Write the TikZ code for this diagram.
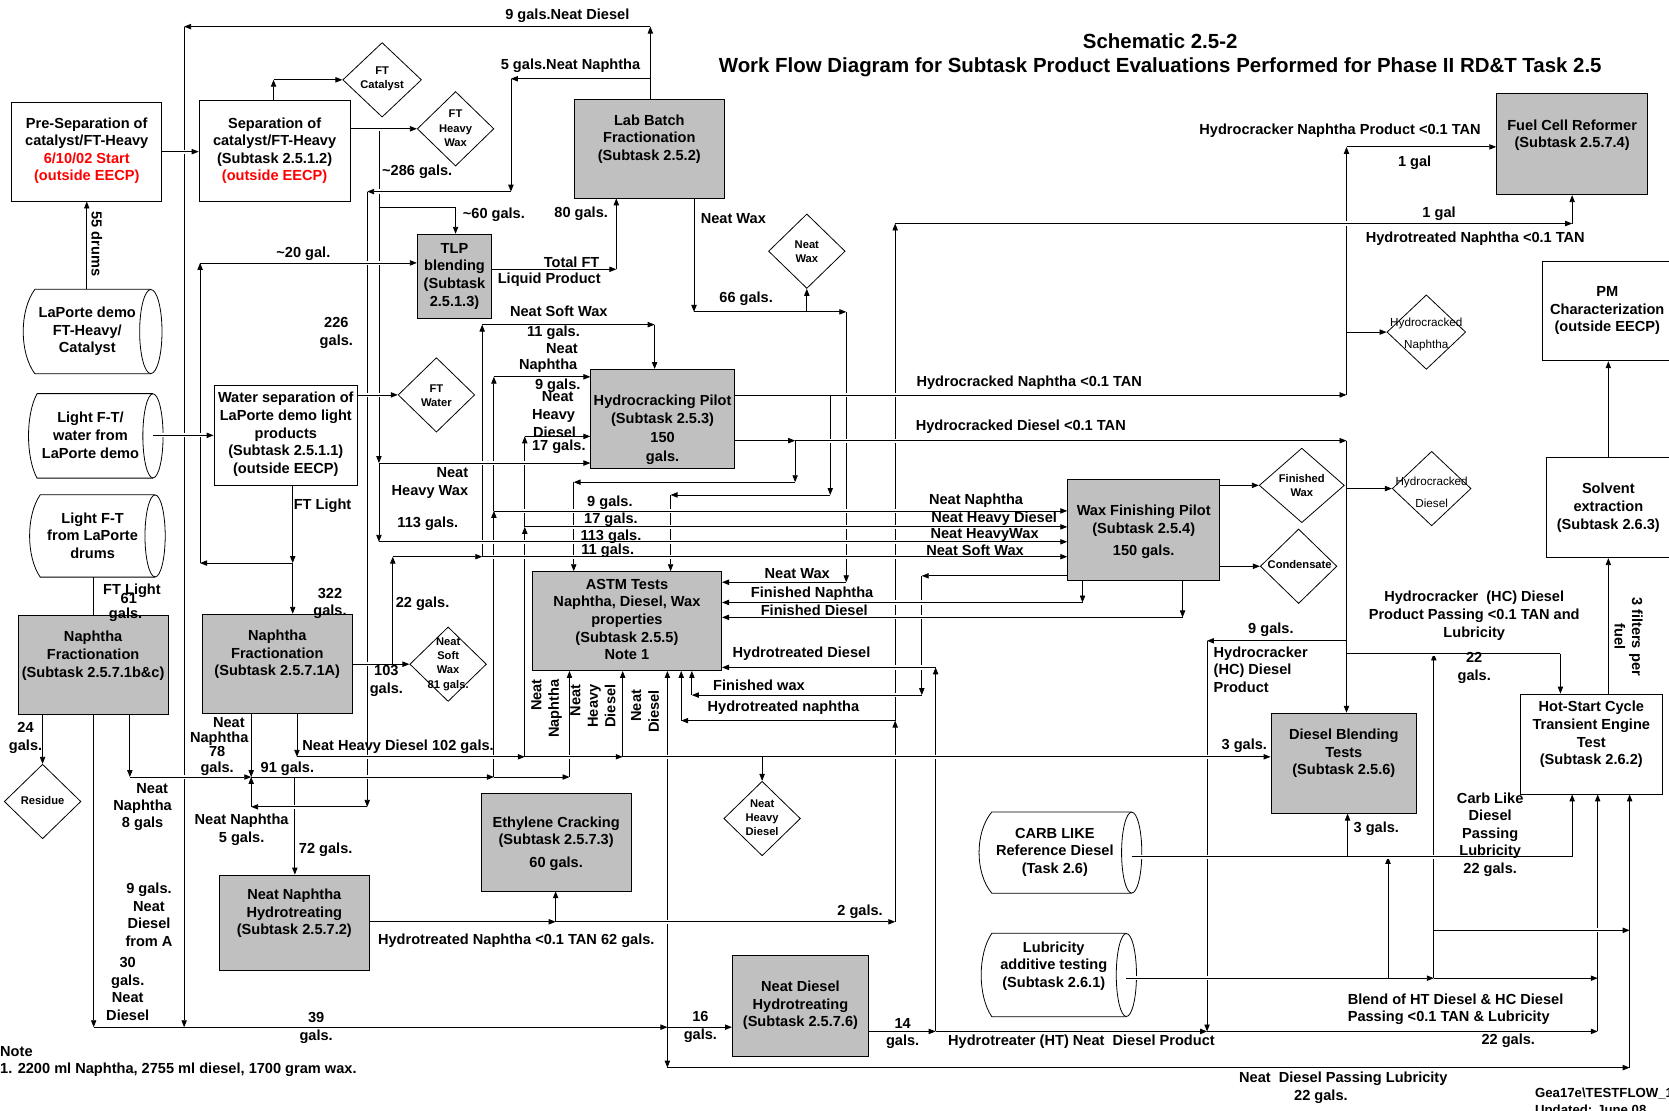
\documentclass[tikz,border=0pt]{standalone}
\usepackage{fontspec}
\setmainfont{Liberation Sans}
\usetikzlibrary{arrows.meta,shapes.geometric,calc}
\definecolor{boxgray}{RGB}{192,192,192}
\newcommand{\lblfont}{\fontsize{13.7}{16.5}\selectfont\bfseries}
\newcommand{\ttlfont}{\fontsize{19.2}{23}\selectfont\bfseries}
\newcommand{\dmfont}{\fontsize{10.5}{13.3}\selectfont\bfseries}
\newcommand{\dmrfont}{\fontsize{11}{21}\selectfont}
\newcommand{\smfont}{\fontsize{12.4}{15}\selectfont\bfseries}
% horizontal drum (direct access storage) around a sized node
\newcommand{\drumshape}[4]{%
  \fill[white] (#1.north west) -- (#1.north east) -- (#1.south east) -- (#1.south west)
    .. controls ($(#1.south west)+({-1.333*#2},{-0.5*#4})$) and ($(#1.north west)+({-1.333*#2},{0.5*#4})$) .. cycle;
  \draw[boxline] (#1.south east) -- (#1.south west)
    .. controls ($(#1.south west)+({-1.333*#2},{-0.5*#4})$) and ($(#1.north west)+({-1.333*#2},{0.5*#4})$) .. (#1.north west) -- (#1.north east);
  \draw[boxline, fill=white] (#1.east) ellipse [x radius=#3, y radius=#4];
}
\begin{document}
\begin{tikzpicture}[x=1pt,y=-1pt,
  boxline/.style={draw=black, line width=0.75pt},
  wbox/.style={boxline, fill=white, inner sep=0pt},
  gbox/.style={boxline, fill=boxgray, inner sep=0pt},
  drum/.style={inner sep=0pt},
  dmd/.style={diamond, boxline, fill=white, inner sep=0pt, minimum width=72pt, minimum height=70pt},
  t/.style={inner sep=0pt, align=center, font=\lblfont},
  dt/.style={inner sep=0pt, align=center, font=\dmfont},
  ln/.style={draw=black, line width=0.75pt},
  ar/.style={ln, -{Triangle[length=6.5pt,width=5pt]}},
  hop/.style={preaction={draw=white, line width=4pt, arrows=-, shorten <=3pt, shorten >=3pt}},
]
\useasboundingbox (0,0) rectangle (1568,1043);
\fill[white] (0,0) rectangle (1568,1043);
\clip (0,0) rectangle (1568,1043);

% ---------------- title
\node[inner sep=0pt, align=center, font=\ttlfont] (title) at (1090,52)
  {Schematic 2.5-2\\Work Flow Diagram for Subtask Product Evaluations Performed for Phase II RD\&T Task 2.5};

% ---------------- process boxes
\node[wbox, minimum width=141pt, minimum height=93pt] (presep) at (81.5,142.5) {};
\node[wbox, minimum width=142pt, minimum height=95pt] (sep) at (258,141.5) {};
\node[wbox, minimum width=135pt, minimum height=94pt] (water) at (268.5,409) {};
\node[wbox, minimum width=141pt, minimum height=93pt] (pm) at (1519.5,292.5) {};
\node[wbox, minimum width=141pt, minimum height=94pt] (solvent) at (1523.5,477) {};
\node[wbox, minimum width=134pt, minimum height=94pt] (hot) at (1495,699) {};
\node[gbox, minimum width=141pt, minimum height=93pt] (lab) at (610.5,139.5) {};
\node[gbox, minimum width=70pt, minimum height=79pt] (tlp) at (427,259.5) {};
\node[gbox, minimum width=142pt, minimum height=95pt] (fuel) at (1477,135.5) {};
\node[gbox, minimum width=135pt, minimum height=93pt] (hc) at (622.5,393.5) {};
\node[gbox, minimum width=143pt, minimum height=95pt] (wax) at (1074.5,497.5) {};
\node[gbox, minimum width=178pt, minimum height=93pt] (astm) at (589,583.5) {};
\node[gbox, minimum width=141pt, minimum height=93pt] (nfb) at (87.5,624.5) {};
\node[gbox, minimum width=141pt, minimum height=93pt] (nfa) at (260.5,623.5) {};
\node[gbox, minimum width=141pt, minimum height=92pt] (eth) at (522.5,791) {};
\node[gbox, minimum width=141pt, minimum height=90pt] (nnh) at (276.5,867) {};
\node[gbox, minimum width=137pt, minimum height=94pt] (dbt) at (1262.5,717) {};
\node[gbox, minimum width=128pt, minimum height=94pt] (ndh) at (752,945) {};

% ---------------- storage drums
\node[drum, minimum width=108.5pt, minimum height=79pt] (lfh) at (87.25,311.5) {};
\node[drum, minimum width=108.5pt, minimum height=79pt] (lfw) at (89.25,409.5) {};
\node[drum, minimum width=107.5pt, minimum height=77pt] (lfd) at (91.75,503.5) {};
\node[drum, minimum width=131pt, minimum height=76pt] (carb) at (997.5,801) {};
\node[drum, minimum width=126pt, minimum height=78pt] (lub) at (995,916) {};
\drumshape{lfh}{11}{10.5}{39.5}
\drumshape{lfw}{8}{9.5}{39.5}
\drumshape{lfd}{10}{9.5}{38.5}
\drumshape{carb}{12}{9.5}{38}
\drumshape{lub}{10}{9.5}{39}

% ---------------- product diamonds
\node[dmd, minimum width=74pt] (ftcat) at (359,75) {};
\node[dmd] (ftwax) at (428,121) {};
\node[dmd] (ndwax) at (758,236) {};
\node[dmd] (ftwat) at (410,371) {};
\node[dmd] (nsw) at (421,624) {};
\node[dmd] (resid) at (40,753) {};
\node[dmd] (nhd) at (716,769) {};
\node[dmd, minimum width=80pt] (fwax) at (1223,456) {};
\node[dmd] (cond) at (1220,532) {};
\node[dmd, minimum width=74pt] (hcn) at (1340,312) {};
\node[dmd, minimum width=74pt] (hcd) at (1345,459) {};

% ---------------- junction points
\coordinate (cat1) at (257,75);
\coordinate (j286) at (356,121);
\coordinate (j60) at (356,195);
\coordinate (j60b) at (428,195);
\coordinate (jhw) at (356,435);
\coordinate (j113) at (356,509);
\coordinate (nd1) at (611,25);
\coordinate (nd2) at (173,25);
\coordinate (nd3) at (173,965);
\coordinate (nd4) at (88,965);
\coordinate (jnd) at (627,965);
\coordinate (nd5) at (627,1003);
\coordinate (nd6) at (1531,1003);
\coordinate (nn1) at (611,74);
\coordinate (nn2) at (480,74);
\coordinate (nn3) at (480,180);
\coordinate (nn4) at (345,180);
\coordinate (nn5) at (345,758);
\coordinate (nn6) at (236,758);
\coordinate (jn91) at (236,730);
\coordinate (n8) at (122,730);
\coordinate (j72) at (277,730);
\coordinate (jnn) at (464,730);
\coordinate (jnn2) at (535,730);
\coordinate (jn9) at (464,480);
\coordinate (jn9b) at (464,354);
\coordinate (jft) at (275,529);
\coordinate (j20a) at (188,529);
\coordinate (j20b) at (188,247);
\coordinate (jhd) at (279,711);
\coordinate (jhd2) at (493,711);
\coordinate (jhd3) at (585,711);
\coordinate (jnhd) at (716,711);
\coordinate (jh17) at (493,495);
\coordinate (jh17b) at (493,410);
\coordinate (jsw) at (369,624);
\coordinate (jsw2) at (369,523);
\coordinate (jsw3) at (453,523);
\coordinate (jsw4) at (453,305);
\coordinate (jsw5) at (615,305);
\coordinate (jtl) at (579,253);
\coordinate (nw1) at (652,293);
\coordinate (nw4) at (758,293);
\coordinate (nw2) at (795,293);
\coordinate (nw3) at (795,547);
\coordinate (hn1) at (1265,371);
\coordinate (hn2) at (1265,138);
\coordinate (hn3) at (780,371);
\coordinate (hn4) at (780,465);
\coordinate (hn5) at (630,465);
\coordinate (hn6) at (1265,312);
\coordinate (hd1) at (747,414);
\coordinate (hd2) at (1265,414);
\coordinate (hd3) at (747,453);
\coordinate (hd4) at (539,453);
\coordinate (hd5) at (1265,459);
\coordinate (hd6) at (1265,602);
\coordinate (hd7) at (1134,602);
\coordinate (hd8) at (1134,969);
\coordinate (hd9) at (1265,614);
\coordinate (hd10) at (1466,614);
\coordinate (ht1) at (841,866);
\coordinate (ht2) at (841,210);
\coordinate (ht3) at (1477,210);
\coordinate (ht4) at (522,866);
\coordinate (ht5) at (841,677);
\coordinate (ht6) at (640,677);
\coordinate (fw1) at (866,541);
\coordinate (fw2) at (866,653);
\coordinate (fw3) at (650,653);
\coordinate (fn1) at (1017,566);
\coordinate (fd1) at (1111,580);
\coordinate (hx1) at (879,969);
\coordinate (hx2) at (879,627);
\coordinate (hx3) at (1501,969);
\coordinate (cb1) at (1477,805);
\coordinate (cb2) at (1266,805);
\coordinate (lb1) at (1347,919);
\coordinate (lb2) at (1501,919);
\coordinate (lb3) at (1304,919);
\coordinate (lb4) at (1304,805);
\coordinate (lb5) at (1347,614);
\coordinate (lb6) at (1347,874);
\coordinate (lb7) at (1531,874);
\coordinate (sx) at (1511,0);

% ---------------- vertical runs
\draw[ar] (presep.south |- lfh.north) -- (presep.south);
\draw[ar] (sep.north -| cat1) -- (cat1);
\draw[ar] (j286) -- (jhw);
\draw[ar] (jhw) -- (j113);
\draw[ar] (j60b) -- (j60b |- tlp.north);
\draw[ar] (lab.north -| nd1) -- (nd1);
\draw[ar] (nd2) -- (nd3);
\draw[ar] (nn2) -- (nn3);
\draw[ar] (nn4) -- (nn5);
\draw[ar] (nn6) -- (jn91);
\draw[ar] (water.south -| jft) -- (jft);
\draw[ar] (jft) -- (jft |- nfa.north);
\draw[ar] (j20a) -- (j20b);
\draw[ln] (nfb.north |- lfd.south) -- (nfb.north);
\draw[ar] (nfb.south -| resid.north) -- (resid.north);
\draw[ar] (nfb.south -| nd4) -- (nd4);
\draw[ar] (nfb.south -| n8) -- (n8);
\draw[ar] (nfa.south -| jn91) -- (jn91);
\draw[ar] (jnn2) -- (jnn2 |- astm.south);
\draw[ar] (j72) -- (j72 |- nnh.north);
\draw[ar] (jnn) -- (jn9);
\draw[ar] (jn9) -- (jn9b);
\draw[ar] (nfa.south -| jhd) -- (jhd);
\draw[ar] (jhd3) -- (jhd3 |- astm.south);
\draw[ar] (jhd2) -- (jh17);
\draw[ar] (jh17) -- (jh17b);
\draw[ar] (jnhd) -- (nhd.north);
\draw[ar] (jsw) -- (jsw2);
\draw[ar] (jsw3) -- (jsw4);
\draw[ar] (jsw5) -- (jsw5 |- hc.north);
\draw[ar] (jtl) -- (jtl |- lab.south);
\draw[ar] (lab.south -| nw1) -- (nw1);
\draw[ar] (nw4) -- (ndwax.south);
\draw[ar] (nw2) -- (nw3);
\draw[ar] (hn1) -- (hn2);
\draw[ar] (hn3) -- (hn4);
\draw[ar] (hn5) -- (hn5 |- astm.north);
\draw[ar] (hd2) -- (hd2 |- dbt.north);
\draw[ar] (hd1) -- (hd3);
\draw[ar] (hd4) -- (hd4 |- astm.north);
\draw[ar] (hd7) -- (hd8);
\draw[ar] (hd10) -- (hd10 |- hot.north);
\draw[ar] (ht4) -- (ht4 |- eth.south);
\draw[ar] (ht1) -- (ht5);
\draw[ar] (ht5) -- (ht2);
\draw[ar] (ht3) -- (ht3 |- fuel.south);
\draw[ar] (ht6) -- (ht6 |- astm.south);
\draw[ar] (fw1) -- (fw2);
\draw[ar] (fw3) -- (fw3 |- astm.south);
\draw[ar] (wax.south -| fn1) -- (fn1);
\draw[ar] (wax.south -| fd1) -- (fd1);
\draw[ar] (hx3) -- (hx3 |- hot.south);
\draw[ar] (hx1) -- (hx2);
\draw[ar] (jnd) -- (jnd |- astm.south);
\draw[ar] (jnd) -- (nd5);
\draw[ar] (nd6) -- (nd6 |- hot.south);
\draw[ar] (cb1) -- (cb1 |- hot.south);
\draw[ar] (cb2) -- (cb2 |- dbt.south);
\draw[ar] (lb3) -- (lb4);
\draw[ar] (lb1) -- (lb5);
\draw[ar] (sx |- hot.north) -- (sx |- solvent.south);
\draw[ar] (sx |- solvent.north) -- (sx |- pm.south);

% ---------------- horizontal runs (drawn over the verticals)
\draw[ar,hop] (presep.east) -- (presep.east -| sep.west);
\draw[ar,hop] (cat1) -- (ftcat.west);
\draw[ar,hop] (sep.east |- j286) -- (ftwax.west);
\draw[ln,hop] (j60) -- (j60b);
\draw[ar,hop] (jhw) -- (jhw -| hc.west);
\draw[ar,hop] (j113) -- (j113 -| wax.west);
\draw[ar,hop] (nd1) -- (nd2);
\draw[ar,hop] (nn1) -- (nn2);
\draw[ar,hop] (nn3) -- (nn4);
\draw[ar,hop] (nn5) -- (nn6);
\draw[ar,hop] (lfw.east |- water.west) -- (water.west);
\draw[ar,hop] (water.east |- ftwat.west) -- (ftwat.west);
\draw[ar,hop] (jft) -- (j20a);
\draw[ar,hop] (j20b) -- (j20b -| tlp.west);
\draw[ln,hop] (nd4) -- (nd3);
\draw[ar,hop] (nd3) -- (jnd);
\draw[ar,hop] (n8) -- (jn91);
\draw[ln,hop] (jn91) -- (j72);
\draw[ar,hop] (j72) -- (jnn);
\draw[ar,hop] (jnn) -- (jnn2);
\draw[ar,hop] (jn9b) -- (jn9b -| hc.west);
\draw[ar,hop] (jn9) -- (jn9 -| wax.west);
\draw[ar,hop] (jhd) -- (jhd2);
\draw[ar,hop] (jhd2) -- (jhd3);
\draw[ln,hop] (jhd3) -- (jnhd);
\draw[ar,hop] (jnhd) -- (jnhd -| dbt.west);
\draw[ar,hop] (jh17b) -- (jh17b -| hc.west);
\draw[ar,hop] (jh17) -- (jh17 -| wax.west);
\draw[ln,hop] (nfa.east |- nsw.west) -- (jsw);
\draw[ar,hop] (jsw) -- (nsw.west);
\draw[ar,hop] (jsw2) -- (jsw3);
\draw[ar,hop] (jsw3) -- (jsw3 -| wax.west);
\draw[ar,hop] (jsw4) -- (jsw5);
\draw[ar,hop] (tlp.east |- jtl) -- (jtl);
\draw[ln,hop] (nw1) -- (nw4);
\draw[ar,hop] (nw4) -- (nw2);
\draw[ar,hop] (nw3) -- (nw3 -| astm.east);
\draw[ln,hop] (hc.east |- hn3) -- (hn3);
\draw[ar,hop] (hn3) -- (hn1);
\draw[ar,hop] (hn2) -- (hn2 -| fuel.west);
\draw[ar,hop] (hn6) -- (hcn.west);
\draw[ar,hop] (hn4) -- (hn5);
\draw[ar,hop] (hc.east |- hd1) -- (hd1);
\draw[ar,hop] (hd1) -- (hd2);
\draw[ar,hop] (hd3) -- (hd4);
\draw[ar,hop] (hd5) -- (hcd.west);
\draw[ar,hop] (hd6) -- (hd7);
\draw[ln,hop] (hd9) -- (hd10);
\draw[ar,hop] (nnh.east |- ht4) -- (ht4);
\draw[ar,hop] (ht4) -- (ht1);
\draw[ar,hop] (ht2) -- (ht3);
\draw[ar,hop] (ht5) -- (ht6);
\draw[ar,hop] (wax.east |- fwax.west) -- (fwax.west);
\draw[ar,hop] (wax.east |- cond.west) -- (cond.west);
\draw[ar,hop] (wax.west |- fw1) -- (fw1);
\draw[ar,hop] (fw2) -- (fw3);
\draw[ar,hop] (fn1) -- (fn1 -| astm.east);
\draw[ar,hop] (fd1) -- (fd1 -| astm.east);
\draw[ar,hop] (ndh.east |- hx1) -- (hx1);
\draw[ar,hop] (hx1) -- (hd8);
\draw[ar,hop] (hd8) -- (hx3);
\draw[ar,hop] (hx2) -- (hx2 -| astm.east);
\draw[ar,hop] (jnd) -- (jnd -| ndh.west);
\draw[ar,hop] (nd5) -- (nd6);
\draw[ln,hop] (carb.east |- cb2) -- (cb2);
\draw[ln,hop] (cb2) -- (cb1);
\draw[ln,hop] (lub.east |- lb3) -- (lb3);
\draw[ar,hop] (lb3) -- (lb1);
\draw[ar,hop] (lb1) -- (lb2);
\draw[ar,hop] (lb6) -- (lb7);

% ---------------- box texts
\node[t] (presep-t) at (81.5,141.5) {Pre-Separation of\\catalyst/FT-Heavy\\\textcolor{red}{6/10/02 Start}\\\textcolor{red}{(outside EECP)}};
\node[t] (sep-t) at (258,141.5) {Separation of\\catalyst/FT-Heavy\\(Subtask 2.5.1.2)\\\textcolor{red}{(outside EECP)}};
\node[t] (water-t) at (268.5,408) {Water separation of\\LaPorte demo light\\products\\(Subtask 2.5.1.1)\\(outside EECP)};
\node[t] (pm-t) at (1510,292) {PM\\Characterization\\(outside EECP)};
\node[t] (solvent-t) at (1511,477) {Solvent\\extraction\\(Subtask 2.6.3)};
\node[t] (hot-t) at (1495,690) {Hot-Start Cycle\\Transient Engine\\Test\\(Subtask 2.6.2)};
\node[t] (lab-t) at (610,130.5) {Lab Batch\\Fractionation\\(Subtask 2.5.2)};
\node[t] (tlp-t) at (427,259.5) {TLP\\blending\\(Subtask\\2.5.1.3)};
\node[t] (fuel-t) at (1477,127) {Fuel Cell Reformer\\(Subtask 2.5.7.4)};
\node[t] (hc-t) at (622.5,403.5) {Hydrocracking Pilot\\[0.6pt](Subtask 2.5.3)\\[1.4pt]150\\[1.4pt]gals.};
\node[t] (wax-t) at (1074.5,499.5) {Wax Finishing Pilot\\(Subtask 2.5.4)\\[4.5pt]150 gals.};
\node[t] (astm-t) at (589,582) {ASTM Tests\\Naphtha, Diesel, Wax\\properties\\(Subtask 2.5.5)\\Note 1};
\node[t] (nfb-t) at (87.5,616) {Naphtha\\Fractionation\\(Subtask 2.5.7.1b\&c)};
\node[t] (nfa-t) at (260.5,615) {Naphtha\\Fractionation\\(Subtask 2.5.7.1A)};
\node[t] (eth-t) at (522.5,792.5) {Ethylene Cracking\\(Subtask 2.5.7.3)\\[4.5pt]60 gals.};
\node[t] (nnh-t) at (276.5,858) {Neat Naphtha\\Hydrotreating\\(Subtask 2.5.7.2)};
\node[t] (dbt-t) at (1262.5,708) {Diesel Blending\\Tests\\(Subtask 2.5.6)};
\node[t] (ndh-t) at (752,944.5) {Neat Diesel\\Hydrotreating\\(Subtask 2.5.7.6)};
\node[t] (lfh-t) at (82,311.5) {LaPorte demo\\FT-Heavy/\\Catalyst};
\node[t] (lfw-t) at (85,409) {Light F-T/\\water from\\LaPorte demo};
\node[t] (lfd-t) at (87,503) {Light F-T\\from LaPorte\\drums};
\node[t] (carb-t) at (991,800.5) {CARB LIKE\\Reference Diesel\\(Task 2.6)};
\node[t] (lub-t) at (990,907.5) {Lubricity\\additive testing\\(Subtask 2.6.1)};

% ---------------- diamond texts
\node[dt] (ftcat-t) at (359,74) {FT\\Catalyst};
\node[dt] (ftwax-t) at (428,120.5) {FT\\Heavy\\Wax};
\node[dt] (ndwax-t) at (758,236.5) {Neat\\Wax};
\node[dt] (ftwat-t) at (410,371.5) {FT\\Water};
\node[dt] (nsw-t) at (421,624) {Neat\\Soft\\Wax\\81 gals.};
\node[dt] (resid-t) at (40,752) {Residue};
\node[dt] (nhd-t) at (716,768.5) {Neat\\Heavy\\Diesel};
\node[dt] (fwax-t) at (1223,456) {Finished\\Wax};
\node[dt] (cond-t) at (1221,530) {Condensate};
\node[inner sep=0pt, align=center, font=\dmrfont] (hcn-t) at (1340,314.5) {Hydrocracked\\Naphtha};
\node[inner sep=0pt, align=center, font=\dmrfont] (hcd-t) at (1345,462.5) {Hydrocracked\\Diesel};

% ---------------- flow labels
\node[t] (l-title9) at (533,15) {9 gals.Neat Diesel};
\node[t] (l-5nn) at (536,62) {5 gals.Neat Naphtha};
\node[t, rotate=-90] (l-55) at (91,229) {55 drums};
\node[t] (l-286) at (392,161) {\textasciitilde286 gals.};
\node[t] (l-60) at (464,202) {\textasciitilde60 gals.};
\node[t] (l-80) at (546,201) {80 gals.};
\node[t] (l-nwax) at (689,205) {Neat Wax};
\node[t] (l-20) at (285,238) {\textasciitilde20 gal.};
\node[t] (l-tft) at (537,246) {Total FT};
\node[t] (l-lp) at (516,263) {Liquid Product};
\node[t] (l-66) at (701,281) {66 gals.};
\node[t] (l-226) at (316,313) {226\\gals.};
\node[t] (l-nsw) at (525,292) {Neat Soft Wax};
\node[t] (l-11a) at (520,313) {11 gals.};
\node[t] (l-nn-a) at (528,327) {Neat};
\node[t] (l-nn-b) at (515,344) {Naphtha};
\node[t] (l-9a) at (524,362) {9 gals.};
\node[t] (l-nhd-a) at (524,373) {Neat};
\node[t] (l-nhd-b) at (520,391) {Heavy};
\node[t] (l-nhd-c) at (521,406) {Diesel};
\node[t] (l-17a) at (525,420) {17 gals.};
\node[t, anchor=east, align=right] (l-nhw) at (440,453.5) {Neat\\Heavy Wax};
\node[t] (l-113a) at (402,492) {113 gals.};
\node[t] (l-ftl) at (303,475) {FT Light};
\node[t] (l-hcn) at (967,360) {Hydrocracked Naphtha <0.1 TAN};
\node[t] (l-hcd) at (959,401) {Hydrocracked Diesel <0.1 TAN};
\node[t] (l-hnp) at (1259,123) {Hydrocracker Naphtha Product <0.1 TAN};
\node[t] (l-1g) at (1329,153) {1 gal};
\node[t] (l-1g2) at (1352,201) {1 gal};
\node[t] (l-htn) at (1386,224) {Hydrotreated Naphtha <0.1 TAN};
\node[t] (l-9b) at (573,472) {9 gals.};
\node[t] (l-17b) at (574,488) {17 gals.};
\node[t] (l-113b) at (574,504) {113 gals.};
\node[t] (l-11b) at (571,517) {11 gals.};
\node[t] (l-wnn) at (917,470) {Neat Naphtha};
\node[t] (l-wnhd) at (934,487) {Neat Heavy Diesel};
\node[t] (l-wnhw) at (925,503) {Neat HeavyWax};
\node[t] (l-wnsw) at (916,517) {Neat Soft Wax};
\node[t] (l-anw) at (749,539) {Neat Wax};
\node[t] (l-afn) at (763,558) {Finished Naphtha};
\node[t] (l-afd) at (765,573) {Finished Diesel};
\node[t] (l-ahd) at (753,614) {Hydrotreated Diesel};
\node[t] (l-afw) at (713,644) {Finished wax};
\node[t] (l-ahn) at (736,665) {Hydrotreated naphtha};
\node[t] (l-ftl2) at (124,555) {FT Light};
\node[t] (l-61) at (121,562) {61};
\node[t] (l-61g) at (118,578) {gals.};
\node[t] (l-322) at (310,567) {322\\gals.};
\node[t] (l-22a) at (397,567) {22 gals.};
\node[t] (l-103) at (363,640) {103\\gals.};
\node[t] (l-102) at (374,702) {Neat Heavy Diesel 102 gals.};
\node[t] (l-78a) at (215,679) {Neat};
\node[t] (l-78b) at (206,694) {Naphtha};
\node[t] (l-78c) at (204,706) {78};
\node[t] (l-78d) at (204,722) {gals.};
\node[t] (l-91) at (270,722) {91 gals.};
\node[t] (l-24) at (24,693.5) {24\\gals.};
\node[t] (l-8a) at (143,741) {Neat};
\node[t] (l-8b) at (134,758) {Naphtha};
\node[t] (l-8c) at (134,774) {8 gals};
\node[t] (l-5) at (227,779.5) {Neat Naphtha\\5 gals.};
\node[t] (l-72) at (306,798) {72 gals.};
\node[t] (l-9nd) at (140,859.5) {9 gals.\\Neat\\Diesel\\from A};
\node[t] (l-30) at (120,929) {30\\gals.\\Neat\\Diesel};
\node[t] (l-39) at (297,966) {39\\gals.};
\node[t, anchor=west] (l-note) at (0,988) {Note};
\node[t, anchor=west] (l-note1) at (0,1005) {1. 2200 ml Naphtha, 2755 ml diesel, 1700 gram wax.};
\node[t, anchor=west] (l-62) at (355,884) {Hydrotreated Naphtha <0.1 TAN 62 gals.};
\node[t] (l-2) at (808,857) {2 gals.};
\node[t] (l-16) at (658,965) {16\\gals.};
\node[t] (l-14) at (848,971) {14\\gals.};
\node[t] (l-htp) at (1016,979) {Hydrotreater (HT) Neat\ \ Diesel Product};
\node[t, anchor=west, align=left] (l-blend) at (1266,948) {Blend of HT Diesel \& HC Diesel\\Passing <0.1 TAN \& Lubricity};
\node[t] (l-22b) at (1417,978) {22 gals.};
\node[t] (l-ndpl) at (1262,1013) {Neat\ \ Diesel Passing Lubricity};
\node[t] (l-22d) at (1241,1030) {22 gals.};
\node[t] (l-3a) at (1169,701) {3 gals.};
\node[t] (l-3b) at (1293,779) {3 gals.};
\node[t] (l-carb) at (1400,784) {Carb Like\\Diesel\\Passing\\Lubricity\\22 gals.};
\node[t] (l-hcdp) at (1385,578.5) {Hydrocracker\ \ (HC) Diesel\\Product Passing <0.1 TAN and\\Lubricity};
\node[t] (l-22c) at (1385,627.5) {22\\gals.};
\node[t] (l-9c) at (1194,592) {9 gals.};
\node[t, anchor=west, align=left] (l-hcprod) at (1140,629) {Hydrocracker\\(HC) Diesel\\Product};
\node[t, rotate=-90] (l-3f) at (1530,598) {3 filters per\\fuel};
\node[t, rotate=90, anchor=east, align=right] (l-rnn) at (513.5,638) {Neat\\Naphtha};
\node[t, rotate=90, anchor=east, align=right] (l-rnhd) at (557,643) {Neat\\Heavy\\Diesel};
\node[t, rotate=90, anchor=east, align=right] (l-rnd) at (606,648) {Neat\\Diesel};
\node[inner sep=0pt, font=\smfont, anchor=west] (l-file) at (1442,1027) {Gea17e\textbackslash TESTFLOW\_1};
\node[inner sep=0pt, font=\smfont, anchor=west] (l-upd) at (1442,1044) {Updated: June 08};
\end{tikzpicture}
\end{document}
